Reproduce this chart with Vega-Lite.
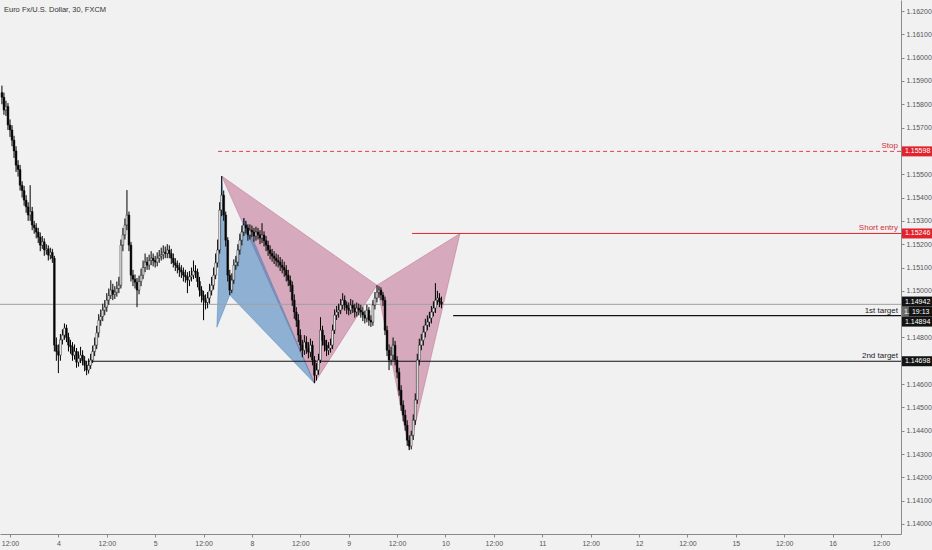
{
"$schema": "https://vega.github.io/schema/vega-lite/v6.json",
"width": 901, "height": 534,
"autosize": {"type": "none"},
"padding": {"left": 0, "top": 0, "right": 31, "bottom": 16},
"background": "#f1f1f1",
"config": {"view": {"stroke": null}, "font": "Liberation Sans", "scale": {"continuousPadding": 0}},
"resolve": {"axis": {"x": "independent", "y": "independent"}},
"datasets": {
"candles": [
{"t":10,"o":1.15850,"h":1.15880,"l":1.15800,"c":1.15830},
{"t":10.5,"o":1.15830,"h":1.15850,"l":1.15755,"c":1.15775},
{"t":11,"o":1.15775,"h":1.15815,"l":1.15750,"c":1.15790},
{"t":11.5,"o":1.15790,"h":1.15805,"l":1.15690,"c":1.15711},
{"t":12,"o":1.15711,"h":1.15735,"l":1.15660,"c":1.15690},
{"t":12.5,"o":1.15690,"h":1.15710,"l":1.15620,"c":1.15646},
{"t":13,"o":1.15646,"h":1.15665,"l":1.15570,"c":1.15600},
{"t":13.5,"o":1.15600,"h":1.15620,"l":1.15510,"c":1.15539},
{"t":14,"o":1.15539,"h":1.15560,"l":1.15490,"c":1.15520},
{"t":14.5,"o":1.15520,"h":1.15540,"l":1.15430,"c":1.15453},
{"t":15,"o":1.15453,"h":1.15470,"l":1.15400,"c":1.15430},
{"t":15.5,"o":1.15430,"h":1.15450,"l":1.15365,"c":1.15389},
{"t":16,"o":1.15389,"h":1.15410,"l":1.15335,"c":1.15360},
{"t":16.5,"o":1.15360,"h":1.15380,"l":1.15300,"c":1.15325},
{"t":17,"o":1.15325,"h":1.15453,"l":1.15300,"c":1.15340},
{"t":17.5,"o":1.15340,"h":1.15360,"l":1.15260,"c":1.15282},
{"t":18,"o":1.15282,"h":1.15300,"l":1.15245,"c":1.15270},
{"t":18.5,"o":1.15270,"h":1.15290,"l":1.15225,"c":1.15252},
{"t":19,"o":1.15252,"h":1.15270,"l":1.15205,"c":1.15230},
{"t":19.5,"o":1.15230,"h":1.15250,"l":1.15170,"c":1.15196},
{"t":20,"o":1.15196,"h":1.15235,"l":1.15180,"c":1.15210},
{"t":20.5,"o":1.15210,"h":1.15225,"l":1.15150,"c":1.15175},
{"t":21,"o":1.15175,"h":1.15200,"l":1.15155,"c":1.15180},
{"t":21.5,"o":1.15180,"h":1.15195,"l":1.15130,"c":1.15153},
{"t":22,"o":1.15153,"h":1.15185,"l":1.15135,"c":1.15165},
{"t":22.5,"o":1.15165,"h":1.15180,"l":1.15120,"c":1.15140},
{"t":23,"o":1.15140,"h":1.15150,"l":1.14740,"c":1.14767},
{"t":23.5,"o":1.14767,"h":1.14800,"l":1.14700,"c":1.14740},
{"t":24,"o":1.14740,"h":1.14770,"l":1.14647,"c":1.14724},
{"t":24.5,"o":1.14724,"h":1.14815,"l":1.14700,"c":1.14790},
{"t":25,"o":1.14790,"h":1.14835,"l":1.14770,"c":1.14810},
{"t":25.5,"o":1.14810,"h":1.14860,"l":1.14790,"c":1.14840},
{"t":26,"o":1.14840,"h":1.14855,"l":1.14780,"c":1.14800},
{"t":26.5,"o":1.14800,"h":1.14820,"l":1.14740,"c":1.14767},
{"t":27,"o":1.14767,"h":1.14790,"l":1.14730,"c":1.14760},
{"t":27.5,"o":1.14760,"h":1.14780,"l":1.14700,"c":1.14724},
{"t":28,"o":1.14724,"h":1.14770,"l":1.14705,"c":1.14740},
{"t":28.5,"o":1.14740,"h":1.14755,"l":1.14670,"c":1.14694},
{"t":29,"o":1.14694,"h":1.14740,"l":1.14675,"c":1.14710},
{"t":29.5,"o":1.14710,"h":1.14760,"l":1.14690,"c":1.14724},
{"t":30,"o":1.14724,"h":1.14745,"l":1.14680,"c":1.14700},
{"t":30.5,"o":1.14700,"h":1.14720,"l":1.14655,"c":1.14681},
{"t":31,"o":1.14681,"h":1.14700,"l":1.14638,"c":1.14660},
{"t":31.5,"o":1.14660,"h":1.14710,"l":1.14645,"c":1.14680},
{"t":32,"o":1.14680,"h":1.14730,"l":1.14665,"c":1.14703},
{"t":32.5,"o":1.14703,"h":1.14765,"l":1.14690,"c":1.14740},
{"t":33,"o":1.14740,"h":1.14800,"l":1.14720,"c":1.14767},
{"t":33.5,"o":1.14767,"h":1.14850,"l":1.14750,"c":1.14820},
{"t":34,"o":1.14820,"h":1.14900,"l":1.14800,"c":1.14874},
{"t":34.5,"o":1.14874,"h":1.14920,"l":1.14850,"c":1.14890},
{"t":35,"o":1.14890,"h":1.14945,"l":1.14870,"c":1.14917},
{"t":35.5,"o":1.14917,"h":1.14960,"l":1.14895,"c":1.14930},
{"t":36,"o":1.14930,"h":1.14990,"l":1.14910,"c":1.14960},
{"t":36.5,"o":1.14960,"h":1.15010,"l":1.14940,"c":1.14980},
{"t":37,"o":1.14980,"h":1.15045,"l":1.14965,"c":1.15003},
{"t":37.5,"o":1.15003,"h":1.15030,"l":1.14960,"c":1.14985},
{"t":38,"o":1.14985,"h":1.15020,"l":1.14965,"c":1.14994},
{"t":38.5,"o":1.14994,"h":1.15040,"l":1.14975,"c":1.15010},
{"t":39,"o":1.15010,"h":1.15060,"l":1.14990,"c":1.15024},
{"t":39.5,"o":1.15024,"h":1.15220,"l":1.15010,"c":1.15196},
{"t":40,"o":1.15196,"h":1.15270,"l":1.15170,"c":1.15240},
{"t":40.5,"o":1.15240,"h":1.15310,"l":1.15220,"c":1.15282},
{"t":41,"o":1.15282,"h":1.15432,"l":1.15260,"c":1.15325},
{"t":41.5,"o":1.15325,"h":1.15340,"l":1.15170,"c":1.15196},
{"t":42,"o":1.15196,"h":1.15210,"l":1.15040,"c":1.15067},
{"t":42.5,"o":1.15067,"h":1.15090,"l":1.15020,"c":1.15050},
{"t":43,"o":1.15050,"h":1.15070,"l":1.15010,"c":1.15037},
{"t":43.5,"o":1.15037,"h":1.15055,"l":1.14930,"c":1.15003},
{"t":44,"o":1.15003,"h":1.15065,"l":1.14985,"c":1.15040},
{"t":44.5,"o":1.15040,"h":1.15095,"l":1.15020,"c":1.15067},
{"t":45,"o":1.15067,"h":1.15130,"l":1.15050,"c":1.15100},
{"t":45.5,"o":1.15100,"h":1.15160,"l":1.15080,"c":1.15123},
{"t":46,"o":1.15123,"h":1.15145,"l":1.15090,"c":1.15110},
{"t":46.5,"o":1.15110,"h":1.15155,"l":1.15090,"c":1.15130},
{"t":47,"o":1.15130,"h":1.15170,"l":1.15110,"c":1.15140},
{"t":47.5,"o":1.15140,"h":1.15160,"l":1.15105,"c":1.15130},
{"t":48,"o":1.15130,"h":1.15150,"l":1.15100,"c":1.15123},
{"t":48.5,"o":1.15123,"h":1.15165,"l":1.15105,"c":1.15140},
{"t":49,"o":1.15140,"h":1.15175,"l":1.15120,"c":1.15149},
{"t":49.5,"o":1.15149,"h":1.15185,"l":1.15130,"c":1.15155},
{"t":50,"o":1.15155,"h":1.15195,"l":1.15135,"c":1.15166},
{"t":50.5,"o":1.15166,"h":1.15190,"l":1.15140,"c":1.15160},
{"t":51,"o":1.15160,"h":1.15200,"l":1.15140,"c":1.15175},
{"t":51.5,"o":1.15175,"h":1.15195,"l":1.15140,"c":1.15160},
{"t":52,"o":1.15160,"h":1.15180,"l":1.15115,"c":1.15140},
{"t":52.5,"o":1.15140,"h":1.15160,"l":1.15100,"c":1.15120},
{"t":53,"o":1.15120,"h":1.15140,"l":1.15085,"c":1.15110},
{"t":53.5,"o":1.15110,"h":1.15130,"l":1.15075,"c":1.15100},
{"t":54,"o":1.15100,"h":1.15120,"l":1.15060,"c":1.15089},
{"t":54.5,"o":1.15089,"h":1.15110,"l":1.15055,"c":1.15080},
{"t":55,"o":1.15080,"h":1.15100,"l":1.15040,"c":1.15067},
{"t":55.5,"o":1.15067,"h":1.15090,"l":1.15035,"c":1.15060},
{"t":56,"o":1.15060,"h":1.15080,"l":1.14990,"c":1.15046},
{"t":56.5,"o":1.15046,"h":1.15085,"l":1.15020,"c":1.15060},
{"t":57,"o":1.15060,"h":1.15100,"l":1.15040,"c":1.15067},
{"t":57.5,"o":1.15067,"h":1.15130,"l":1.15050,"c":1.15085},
{"t":58,"o":1.15085,"h":1.15110,"l":1.15055,"c":1.15080},
{"t":58.5,"o":1.15080,"h":1.15095,"l":1.15015,"c":1.15040},
{"t":59,"o":1.15040,"h":1.15060,"l":1.14975,"c":1.15003},
{"t":59.5,"o":1.15003,"h":1.15020,"l":1.14950,"c":1.14980},
{"t":60,"o":1.14980,"h":1.15000,"l":1.14874,"c":1.14960},
{"t":60.5,"o":1.14960,"h":1.14985,"l":1.14920,"c":1.14950},
{"t":61,"o":1.14950,"h":1.14995,"l":1.14925,"c":1.14969},
{"t":61.5,"o":1.14969,"h":1.15030,"l":1.14945,"c":1.15000},
{"t":62,"o":1.15000,"h":1.15060,"l":1.14980,"c":1.15024},
{"t":62.5,"o":1.15024,"h":1.15100,"l":1.15005,"c":1.15067},
{"t":63,"o":1.15067,"h":1.15160,"l":1.15050,"c":1.15120},
{"t":63.5,"o":1.15120,"h":1.15220,"l":1.15100,"c":1.15175},
{"t":64,"o":1.15175,"h":1.15380,"l":1.15160,"c":1.15346},
{"t":64.5,"o":1.15346,"h":1.15492,"l":1.15320,"c":1.15410},
{"t":65,"o":1.15410,"h":1.15430,"l":1.15300,"c":1.15325},
{"t":65.5,"o":1.15325,"h":1.15340,"l":1.15190,"c":1.15217},
{"t":66,"o":1.15217,"h":1.15230,"l":1.15040,"c":1.15067},
{"t":66.5,"o":1.15067,"h":1.15090,"l":1.14982,"c":1.15003},
{"t":67,"o":1.15003,"h":1.15075,"l":1.14990,"c":1.15046},
{"t":67.5,"o":1.15046,"h":1.15135,"l":1.15030,"c":1.15110},
{"t":68,"o":1.15110,"h":1.15150,"l":1.15090,"c":1.15123},
{"t":68.5,"o":1.15123,"h":1.15200,"l":1.15105,"c":1.15175},
{"t":69,"o":1.15175,"h":1.15245,"l":1.15155,"c":1.15217},
{"t":69.5,"o":1.15217,"h":1.15280,"l":1.15195,"c":1.15252},
{"t":70,"o":1.15252,"h":1.15312,"l":1.15235,"c":1.15282},
{"t":70.5,"o":1.15282,"h":1.15300,"l":1.15245,"c":1.15269},
{"t":71,"o":1.15269,"h":1.15285,"l":1.15215,"c":1.15239},
{"t":71.5,"o":1.15239,"h":1.15285,"l":1.15220,"c":1.15260},
{"t":72,"o":1.15260,"h":1.15280,"l":1.15230,"c":1.15252},
{"t":72.5,"o":1.15252,"h":1.15270,"l":1.15210,"c":1.15235},
{"t":73,"o":1.15235,"h":1.15275,"l":1.15215,"c":1.15252},
{"t":73.5,"o":1.15252,"h":1.15270,"l":1.15220,"c":1.15240},
{"t":74,"o":1.15240,"h":1.15260,"l":1.15200,"c":1.15226},
{"t":74.5,"o":1.15226,"h":1.15290,"l":1.15205,"c":1.15239},
{"t":75,"o":1.15239,"h":1.15255,"l":1.15190,"c":1.15215},
{"t":75.5,"o":1.15215,"h":1.15235,"l":1.15170,"c":1.15196},
{"t":76,"o":1.15196,"h":1.15215,"l":1.15150,"c":1.15175},
{"t":76.5,"o":1.15175,"h":1.15195,"l":1.15135,"c":1.15160},
{"t":77,"o":1.15160,"h":1.15180,"l":1.15125,"c":1.15149},
{"t":77.5,"o":1.15149,"h":1.15170,"l":1.15115,"c":1.15140},
{"t":78,"o":1.15140,"h":1.15160,"l":1.15105,"c":1.15130},
{"t":78.5,"o":1.15130,"h":1.15155,"l":1.15100,"c":1.15123},
{"t":79,"o":1.15123,"h":1.15145,"l":1.15085,"c":1.15110},
{"t":79.5,"o":1.15110,"h":1.15135,"l":1.15075,"c":1.15100},
{"t":80,"o":1.15100,"h":1.15125,"l":1.15060,"c":1.15089},
{"t":80.5,"o":1.15089,"h":1.15110,"l":1.15040,"c":1.15067},
{"t":81,"o":1.15067,"h":1.15090,"l":1.15020,"c":1.15045},
{"t":81.5,"o":1.15045,"h":1.15065,"l":1.14995,"c":1.15024},
{"t":82,"o":1.15024,"h":1.15040,"l":1.14935,"c":1.14960},
{"t":82.5,"o":1.14960,"h":1.14985,"l":1.14880,"c":1.14909},
{"t":83,"o":1.14909,"h":1.14930,"l":1.14845,"c":1.14874},
{"t":83.5,"o":1.14874,"h":1.14900,"l":1.14780,"c":1.14810},
{"t":84,"o":1.14810,"h":1.14835,"l":1.14740,"c":1.14767},
{"t":84.5,"o":1.14767,"h":1.14790,"l":1.14715,"c":1.14745},
{"t":85,"o":1.14745,"h":1.14810,"l":1.14725,"c":1.14780},
{"t":85.5,"o":1.14780,"h":1.14805,"l":1.14730,"c":1.14754},
{"t":86,"o":1.14754,"h":1.14780,"l":1.14710,"c":1.14737},
{"t":86.5,"o":1.14737,"h":1.14795,"l":1.14715,"c":1.14767},
{"t":87,"o":1.14767,"h":1.14785,"l":1.14680,"c":1.14703},
{"t":87.5,"o":1.14703,"h":1.14720,"l":1.14604,"c":1.14638},
{"t":88,"o":1.14638,"h":1.14690,"l":1.14615,"c":1.14660},
{"t":88.5,"o":1.14660,"h":1.14730,"l":1.14640,"c":1.14703},
{"t":89,"o":1.14703,"h":1.14887,"l":1.14690,"c":1.14831},
{"t":89.5,"o":1.14831,"h":1.14850,"l":1.14765,"c":1.14788},
{"t":90,"o":1.14788,"h":1.14810,"l":1.14740,"c":1.14767},
{"t":90.5,"o":1.14767,"h":1.14790,"l":1.14720,"c":1.14745},
{"t":91,"o":1.14745,"h":1.14780,"l":1.14725,"c":1.14754},
{"t":91.5,"o":1.14754,"h":1.14795,"l":1.14735,"c":1.14767},
{"t":92,"o":1.14767,"h":1.14855,"l":1.14750,"c":1.14831},
{"t":92.5,"o":1.14831,"h":1.14920,"l":1.14815,"c":1.14896},
{"t":93,"o":1.14896,"h":1.14935,"l":1.14875,"c":1.14909},
{"t":93.5,"o":1.14909,"h":1.14945,"l":1.14885,"c":1.14917},
{"t":94,"o":1.14917,"h":1.14965,"l":1.14900,"c":1.14939},
{"t":94.5,"o":1.14939,"h":1.14990,"l":1.14920,"c":1.14960},
{"t":95,"o":1.14960,"h":1.14980,"l":1.14915,"c":1.14939},
{"t":95.5,"o":1.14939,"h":1.14955,"l":1.14900,"c":1.14926},
{"t":96,"o":1.14926,"h":1.14950,"l":1.14895,"c":1.14917},
{"t":96.5,"o":1.14917,"h":1.14965,"l":1.14900,"c":1.14939},
{"t":97,"o":1.14939,"h":1.14960,"l":1.14905,"c":1.14926},
{"t":97.5,"o":1.14926,"h":1.14945,"l":1.14885,"c":1.14909},
{"t":98,"o":1.14909,"h":1.14950,"l":1.14890,"c":1.14926},
{"t":98.5,"o":1.14926,"h":1.14945,"l":1.14895,"c":1.14917},
{"t":99,"o":1.14917,"h":1.14940,"l":1.14885,"c":1.14909},
{"t":99.5,"o":1.14909,"h":1.14930,"l":1.14870,"c":1.14896},
{"t":100,"o":1.14896,"h":1.14915,"l":1.14860,"c":1.14883},
{"t":100.5,"o":1.14883,"h":1.14940,"l":1.14865,"c":1.14917},
{"t":101,"o":1.14917,"h":1.14930,"l":1.14850,"c":1.14874},
{"t":101.5,"o":1.14874,"h":1.14895,"l":1.14845,"c":1.14866},
{"t":102,"o":1.14866,"h":1.14960,"l":1.14850,"c":1.14939},
{"t":102.5,"o":1.14939,"h":1.14995,"l":1.14920,"c":1.14969},
{"t":103,"o":1.14969,"h":1.15024,"l":1.14950,"c":1.14994},
{"t":103.5,"o":1.14994,"h":1.15020,"l":1.14970,"c":1.15003},
{"t":104,"o":1.15003,"h":1.15015,"l":1.14960,"c":1.14982},
{"t":104.5,"o":1.14982,"h":1.14995,"l":1.14935,"c":1.14960},
{"t":105,"o":1.14960,"h":1.14975,"l":1.14810,"c":1.14831},
{"t":105.5,"o":1.14831,"h":1.14850,"l":1.14720,"c":1.14745},
{"t":106,"o":1.14745,"h":1.14770,"l":1.14660,"c":1.14703},
{"t":106.5,"o":1.14703,"h":1.14760,"l":1.14680,"c":1.14724},
{"t":107,"o":1.14724,"h":1.14800,"l":1.14700,"c":1.14767},
{"t":107.5,"o":1.14767,"h":1.14785,"l":1.14680,"c":1.14703},
{"t":108,"o":1.14703,"h":1.14720,"l":1.14625,"c":1.14651},
{"t":108.5,"o":1.14651,"h":1.14670,"l":1.14550,"c":1.14574},
{"t":109,"o":1.14574,"h":1.14595,"l":1.14485,"c":1.14510},
{"t":109.5,"o":1.14510,"h":1.14530,"l":1.14440,"c":1.14467},
{"t":110,"o":1.14467,"h":1.14490,"l":1.14400,"c":1.14424},
{"t":110.5,"o":1.14424,"h":1.14445,"l":1.14335,"c":1.14359},
{"t":111,"o":1.14359,"h":1.14380,"l":1.14317,"c":1.14334},
{"t":111.5,"o":1.14334,"h":1.14400,"l":1.14320,"c":1.14380},
{"t":112,"o":1.14380,"h":1.14470,"l":1.14360,"c":1.14445},
{"t":112.5,"o":1.14445,"h":1.14560,"l":1.14425,"c":1.14532},
{"t":113,"o":1.14532,"h":1.14730,"l":1.14515,"c":1.14703},
{"t":113.5,"o":1.14703,"h":1.14795,"l":1.14680,"c":1.14767},
{"t":114,"o":1.14767,"h":1.14815,"l":1.14745,"c":1.14788},
{"t":114.5,"o":1.14788,"h":1.14850,"l":1.14765,"c":1.14823},
{"t":115,"o":1.14823,"h":1.14880,"l":1.14800,"c":1.14853},
{"t":115.5,"o":1.14853,"h":1.14895,"l":1.14830,"c":1.14866},
{"t":116,"o":1.14866,"h":1.14910,"l":1.14845,"c":1.14883},
{"t":116.5,"o":1.14883,"h":1.14935,"l":1.14860,"c":1.14909},
{"t":117,"o":1.14909,"h":1.14955,"l":1.14890,"c":1.14926},
{"t":117.5,"o":1.14926,"h":1.15033,"l":1.14905,"c":1.14960},
{"t":118,"o":1.14960,"h":1.15000,"l":1.14940,"c":1.14969},
{"t":118.5,"o":1.14969,"h":1.14990,"l":1.14930,"c":1.14952},
{"t":119,"o":1.14952,"h":1.14975,"l":1.14925,"c":1.14942}
],
"polys": [
{"shape":"pink","tri":1,"k":1,"t":64.5,"p":1.15492},
{"shape":"pink","tri":1,"k":2,"t":103,"p":1.15024},
{"shape":"pink","tri":1,"k":3,"t":87.5,"p":1.14604},
{"shape":"pink","tri":1,"k":4,"t":64.5,"p":1.15492},
{"shape":"pink","tri":2,"k":1,"t":103,"p":1.15024},
{"shape":"pink","tri":2,"k":2,"t":123.6,"p":1.15246},
{"shape":"pink","tri":2,"k":3,"t":111,"p":1.14317},
{"shape":"pink","tri":2,"k":4,"t":103,"p":1.15024},
{"shape":"blue","tri":3,"k":1,"t":63.3,"p":1.14844},
{"shape":"blue","tri":3,"k":2,"t":64.5,"p":1.15492},
{"shape":"blue","tri":3,"k":3,"t":66.5,"p":1.14982},
{"shape":"blue","tri":3,"k":4,"t":63.3,"p":1.14844},
{"shape":"blue","tri":4,"k":1,"t":66.5,"p":1.14982},
{"shape":"blue","tri":4,"k":2,"t":70,"p":1.15312},
{"shape":"blue","tri":4,"k":3,"t":87.5,"p":1.14604},
{"shape":"blue","tri":4,"k":4,"t":66.5,"p":1.14982}
],
"levels": [
{"name":"Stop","p":1.15598,"from":63.6,"to":232.96},
{"name":"Short entry","p":1.15246,"from":111.7,"to":232.96},
{"name":"1st target","p":1.14894,"from":121.9,"to":232.96},
{"name":"2nd target","p":1.14698,"from":31.3,"to":232.96}
],
"tags": [
{"label":"1.15598","p":1.15598,"kind":"red"},
{"label":"1.15246","p":1.15246,"kind":"red"},
{"label":"1.14942","p":1.14954,"kind":"black"},
{"label":"19:13","p":1.14911,"kind":"black"},
{"label":"1.14894","p":1.14868,"kind":"black"},
{"label":"1.14698","p":1.14698,"kind":"black"}
]
},
"layer": [
{
"data": {"name": "polys"},
"transform": [{"filter": "datum.shape == 'pink'"}],
"mark": {"type": "line", "fill": "#bd6a8c", "fillOpacity": 0.52, "stroke": "#bd6a8c", "strokeOpacity": 0.6, "strokeWidth": 0.8},
"encoding": {
"x": {"field": "t", "type": "quantitative", "scale": {"domain": [9.52, 232.96], "nice": false, "zero": false, "padding": 0},
"axis": {"title": null, "orient": "bottom", "values": [12,24,36,48,60,72,84,96,108,120,132,144,156,168,180,192,204,216,228], "labelExpr": "datum.value % 24 == 12 ? '12:00' : ['4','5','8','9','10','11','12','15','16'][datum.value/24 - 1]", "grid": false, "domainColor": "#8a8a8a", "tickColor": "#8a8a8a", "tickSize": 3, "labelColor": "#555555", "labelFontSize": 7, "labelPadding": 2, "labelOverlap": false, "labelFont": "Liberation Sans"}},
"y": {"field": "p", "type": "quantitative", "scale": {"domain": [1.139571, 1.162472], "nice": false, "zero": false, "padding": 0},
"axis": {"title": null, "orient": "right", "values": [1.140,1.141,1.142,1.143,1.144,1.145,1.146,1.148,1.150,1.151,1.152,1.153,1.154,1.155,1.157,1.158,1.159,1.160,1.161,1.162], "format": ".5f", "grid": false, "domainColor": "#8a8a8a", "tickColor": "#8a8a8a", "tickSize": 3, "labelColor": "#555555", "labelFontSize": 7, "labelPadding": 2, "labelOverlap": false, "labelFont": "Liberation Sans"}},
"detail": {"field": "tri"},
"order": {"field": "k"}
}
},
{
"data": {"name": "polys"},
"transform": [{"filter": "datum.shape == 'blue'"}],
"mark": {"type": "line", "fill": "#3d7ab8", "fillOpacity": 0.55, "stroke": "#3d7ab8", "strokeOpacity": 0.5, "strokeWidth": 0.8},
"encoding": {
"x": {"field": "t", "type": "quantitative", "axis": null},
"y": {"field": "p", "type": "quantitative", "axis": null},
"detail": {"field": "tri"},
"order": {"field": "k"}
}
},
{
"data": {"values": [{"p": 1.14942}]},
"mark": {"type": "rule", "stroke": "#a0a0a0", "strokeWidth": 1},
"encoding": {
"x": {"datum": 9.52, "type": "quantitative", "axis": null},
"x2": {"datum": 232.96},
"y": {"field": "p", "type": "quantitative", "axis": null}
}
},
{
"data": {"name": "levels"},
"transform": [{"filter": "datum.name == 'Stop'"}],
"mark": {"type": "rule", "stroke": "#e0404a", "strokeWidth": 1, "strokeDash": [4, 3]},
"encoding": {
"x": {"field": "from", "type": "quantitative", "axis": null},
"x2": {"field": "to"},
"y": {"field": "p", "type": "quantitative", "axis": null}
}
},
{
"data": {"name": "levels"},
"transform": [{"filter": "datum.name == 'Short entry'"}],
"mark": {"type": "rule", "stroke": "#e0262f", "strokeWidth": 1},
"encoding": {
"x": {"field": "from", "type": "quantitative", "axis": null},
"x2": {"field": "to"},
"y": {"field": "p", "type": "quantitative", "axis": null}
}
},
{
"data": {"name": "levels"},
"transform": [{"filter": "datum.name == '1st target' || datum.name == '2nd target'"}],
"mark": {"type": "rule", "stroke": "#111111", "strokeWidth": 1.2},
"encoding": {
"x": {"field": "from", "type": "quantitative", "axis": null},
"x2": {"field": "to"},
"y": {"field": "p", "type": "quantitative", "axis": null}
}
},
{
"data": {"name": "candles"},
"mark": {"type": "rule", "stroke": "#000000", "strokeWidth": 1},
"encoding": {
"x": {"field": "t", "type": "quantitative", "axis": null},
"y": {"field": "l", "type": "quantitative", "axis": null},
"y2": {"field": "h"}
}
},
{
"data": {"name": "candles"},
"mark": {"type": "bar", "size": 1.8, "stroke": "#111111", "strokeWidth": 0.5},
"encoding": {
"x": {"field": "t", "type": "quantitative", "axis": null},
"y": {"field": "o", "type": "quantitative", "axis": null},
"y2": {"field": "c"},
"fill": {"condition": {"test": "datum.c < datum.o", "value": "#000000"}, "value": "#ffffff"}
}
},
{
"data": {"name": "levels"},
"mark": {"type": "text", "align": "right", "baseline": "bottom", "dx": -3, "dy": -1, "fontSize": 8, "font": "Liberation Sans"},
"encoding": {
"x": {"field": "to", "type": "quantitative", "axis": null},
"y": {"field": "p", "type": "quantitative", "axis": null},
"text": {"field": "name"},
"color": {"field": "name", "type": "nominal", "legend": null, "scale": {"domain": ["Stop", "Short entry", "1st target", "2nd target"], "range": ["#d0303a", "#d0303a", "#222222", "#222222"]}}
}
},
{
"data": {"name": "tags"},
"mark": {"type": "bar", "size": 10},
"encoding": {
"x": {"datum": 233.2, "type": "quantitative", "axis": null},
"x2": {"datum": 240.8},
"y": {"field": "p", "type": "quantitative", "axis": null},
"fill": {"field": "kind", "type": "nominal", "legend": null, "scale": {"domain": ["red", "black"], "range": ["#e0232c", "#131313"]}}
}
},
{
"data": {"values": [{"p": 1.14911, "label": "1."}]},
"mark": {"type": "bar", "size": 10, "color": "#6a6a6a"},
"encoding": {
"x": {"datum": 233.2, "type": "quantitative", "axis": null},
"x2": {"datum": 234.9},
"y": {"field": "p", "type": "quantitative", "axis": null}
}
},
{
"data": {"values": [{"p": 1.14911, "label": "1."}]},
"mark": {"type": "text", "align": "left", "baseline": "middle", "dx": 2, "fontSize": 7, "color": "#ffffff", "font": "Liberation Sans"},
"encoding": {
"x": {"datum": 233.2, "type": "quantitative", "axis": null},
"y": {"field": "p", "type": "quantitative", "axis": null},
"text": {"field": "label"}
}
},
{
"data": {"name": "tags"},
"transform": [{"filter": "datum.label != '19:13'"}],
"mark": {"type": "text", "align": "left", "baseline": "middle", "dx": 3, "fontSize": 7, "color": "#ffffff", "font": "Liberation Sans"},
"encoding": {
"x": {"datum": 233.2, "type": "quantitative", "axis": null},
"y": {"field": "p", "type": "quantitative", "axis": null},
"text": {"field": "label"}
}
},
{
"data": {"name": "tags"},
"transform": [{"filter": "datum.label == '19:13'"}],
"mark": {"type": "text", "align": "left", "baseline": "middle", "dx": 10, "fontSize": 7, "color": "#ffffff", "font": "Liberation Sans"},
"encoding": {
"x": {"datum": 233.2, "type": "quantitative", "axis": null},
"y": {"field": "p", "type": "quantitative", "axis": null},
"text": {"field": "label"}
}
},
{
"data": {"values": [{"title": "Euro Fx/U.S. Dollar, 30, FXCM"}]},
"mark": {"type": "text", "align": "left", "baseline": "middle", "fontSize": 7.5, "color": "#333333", "font": "Liberation Sans"},
"encoding": {
"x": {"datum": 10.5, "type": "quantitative", "axis": null},
"y": {"datum": 1.16204, "type": "quantitative", "axis": null},
"text": {"field": "title"}
}
}
]
}
